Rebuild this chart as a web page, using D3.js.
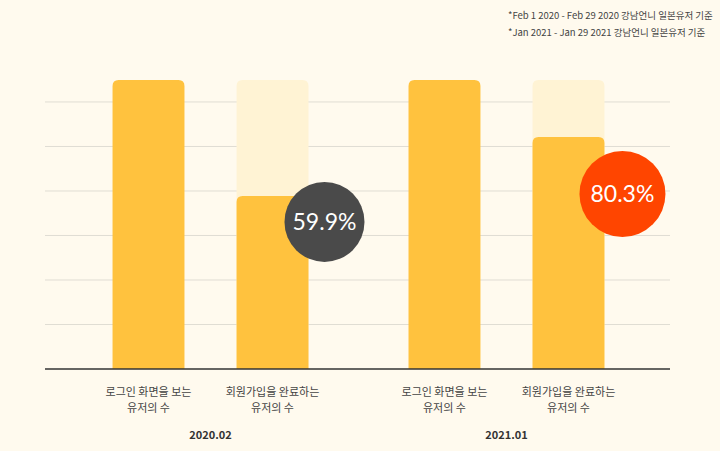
<!DOCTYPE html>
<html><head><meta charset="utf-8">
<script src="https://cdn.jsdelivr.net/npm/d3@7"></script>
<style>body{margin:0;background:#fffaee;}svg{display:block;font-family:"Noto Sans CJK KR","Noto Sans",sans-serif;}</style>
</head><body>
<script>
const groups = ["2020.02", "2021.01"];
const categories = ["로그인 화면을 보는\n유저의 수", "회원가입을 완료하는\n유저의 수"];
const values = [[100, 59.9], [100, 80.3]];
const rates = ["59.9%", "80.3%"];
const gridTicks = [15.4, 30.8, 46.2, 61.6, 77, 92.4];
const notes = ["*Feb 1 2020 - Feb 29 2020 강남언니 일본유저 기준", "*Jan 2021 - Jan 29 2021 강남언니 일본유저 기준"];

const W = 720, H = 451;
const svg = d3.select("body").append("svg").attr("width", W).attr("height", H);
svg.append("rect").attr("width", W).attr("height", H).attr("fill", "#fffaee");
const y = d3.scaleLinear().domain([0, 100]).range([369, 80]);
const gx = d3.scaleBand().domain(groups).range([86.5, 630.5]).paddingInner(0.162).paddingOuter(0);
const bx = d3.scaleBand().domain([0, 1]).range([0, gx.bandwidth()]).paddingInner(0.42).paddingOuter(0.21);

svg.append("g").selectAll("line").data(gridTicks).join("line")
  .attr("x1", 45).attr("x2", 670).attr("y1", d => y(d)).attr("y2", d => y(d))
  .attr("stroke", "#e0ddd3").attr("stroke-width", 1);

function topRounded(x, y0, w, h, r) {
  return `M${x},${y0 + h}V${y0 + r}Q${x},${y0} ${x + r},${y0}H${x + w - r}Q${x + w},${y0} ${x + w},${y0 + r}V${y0 + h}Z`;
}
const circColors = ["#4a4a4a", "#ff4500"];
const circR = [40, 43];
const circDx = [16, 18], circDy = [26, 57];
groups.forEach((g, gi) => {
  const G = svg.append("g").attr("transform", `translate(${gx(g)},0)`);
  values[gi].forEach((v, i) => {
    const x = bx(i), w = bx.bandwidth();
    if (v < 100) G.append("path").attr("d", topRounded(x, y(100), w, y(0) - y(100), 6)).attr("fill", "#fff3d4");
    G.append("path").attr("d", topRounded(x, y(v), w, y(0) - y(v), 6)).attr("fill", "#ffc23e");
    const lines = categories[i].split("\n");
    lines.forEach((t, li) => G.append("text").attr("x", x + w / 2).attr("y", 396 + li * 16)
      .attr("text-anchor", "middle").attr("font-size", 11).attr("fill", "#444").text(t));
  });
  G.append("text").attr("x", gx.bandwidth() / 2).attr("y", 439).attr("text-anchor", "middle")
    .attr("font-size", 11).attr("font-weight", "bold").attr("fill", "#333").text(g);
  const cx = bx(1) + bx.bandwidth() + circDx[gi], cy = y(values[gi][1]) + circDy[gi];
  G.append("circle").attr("cx", cx).attr("cy", cy).attr("r", circR[gi]).attr("fill", circColors[gi]);
  G.append("text").attr("x", cx).attr("y", cy + 8).attr("text-anchor", "middle")
    .attr("font-family", "Lato, sans-serif").attr("font-size", 23).attr("fill", "#fff").text(rates[gi]);
});

svg.append("line").attr("x1", 45).attr("x2", 670).attr("y1", y(0)).attr("y2", y(0))
  .attr("stroke", "#333").attr("stroke-width", 1.5);

notes.forEach((n, i) => svg.append("text").attr("x", 508).attr("y", 19 + i * 17)
  .attr("font-size", 9.5).attr("fill", "#444").text(n));
</script>
</body></html>
